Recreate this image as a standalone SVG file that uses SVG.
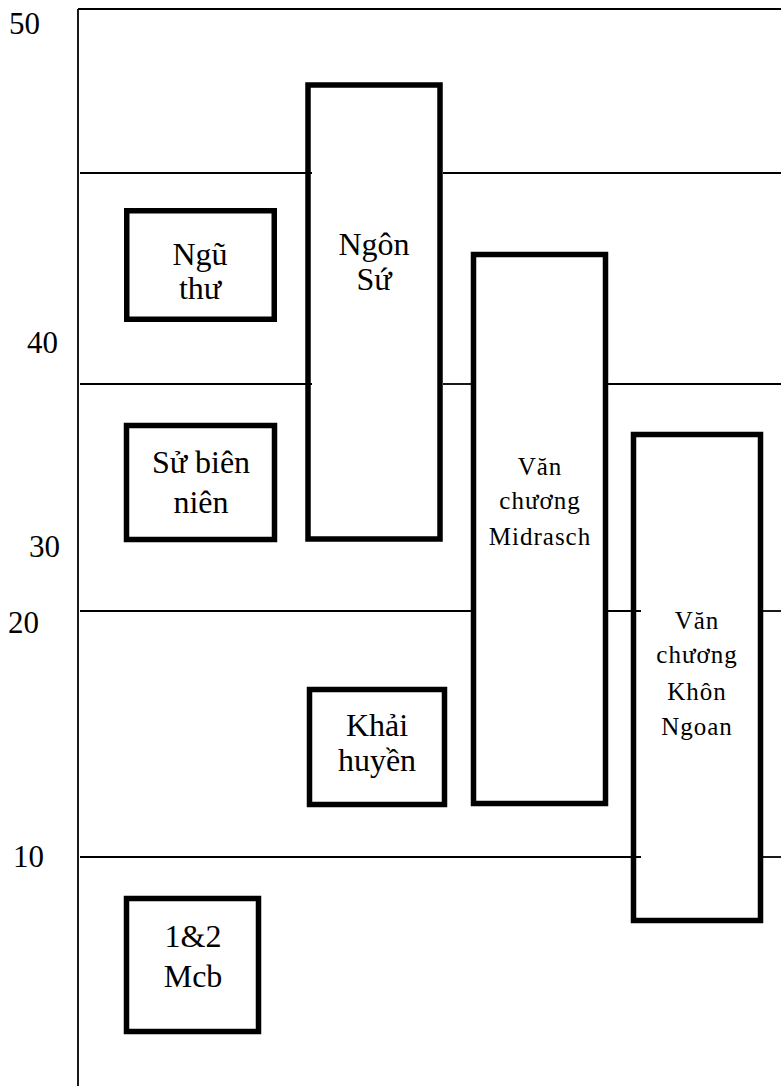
<svg xmlns="http://www.w3.org/2000/svg" width="781" height="1086" viewBox="0 0 781 1086">
<style>
.box{fill:#fff;stroke:#000;stroke-width:5.5}
.ln{stroke:#000;stroke-width:1.8;fill:none}
</style>
<rect width="781" height="1086" fill="#fff"/>
<g id="axis" font-family="Liberation Serif" font-size="31" fill="#000">
<line class="ln" x1="78" y1="9" x2="781" y2="9"/>
<line class="ln" x1="78" y1="9" x2="78" y2="1086"/>
<text x="9" y="34">50</text>
<text x="27" y="353">40</text>
<text x="29" y="557">30</text>
<text x="8" y="633">20</text>
<text x="13" y="867">10</text>
</g>
<g id="ngonsu"><rect class="box" x="308" y="85" width="132" height="454"/>
<text font-family="Liberation Serif" font-size="32" text-anchor="middle" x="374" y="255">Ngôn</text><text font-family="Liberation Serif" font-size="32" text-anchor="middle" x="374" y="290">Sứ</text></g>
<g id="ngutu"><rect class="box" x="126.75" y="210.75" width="147.5" height="108.5"/>
<text font-family="Liberation Serif" font-size="32" text-anchor="middle" x="200" y="265">Ngũ</text><text font-family="Liberation Serif" font-size="32" text-anchor="middle" x="200" y="299">thư</text></g>
<g id="subienien"><rect class="box" x="126.5" y="425.5" width="148" height="114"/>
<text font-family="Liberation Serif" font-size="32" text-anchor="middle" x="201" y="473">Sử biên</text><text font-family="Liberation Serif" font-size="32" text-anchor="middle" x="201" y="513">niên</text></g>
<g id="midrasch"><rect class="box" x="473.5" y="254.5" width="132" height="549"/>
<text font-family="Liberation Serif" font-size="25" letter-spacing="1" text-anchor="middle" x="540" y="475">Văn</text><text font-family="Liberation Serif" font-size="25" letter-spacing="1" text-anchor="middle" x="540" y="509">chương</text><text font-family="Liberation Serif" font-size="25" letter-spacing="1" text-anchor="middle" x="540" y="545">Midrasch</text></g>
<g id="khonngoan"><rect class="box" x="633.5" y="434.5" width="127" height="486"/>
<text font-family="Liberation Serif" font-size="25" letter-spacing="1" text-anchor="middle" x="697" y="629">Văn</text><text font-family="Liberation Serif" font-size="25" letter-spacing="1" text-anchor="middle" x="697" y="663">chương</text><text font-family="Liberation Serif" font-size="25" letter-spacing="1" text-anchor="middle" x="697" y="700">Khôn</text><text font-family="Liberation Serif" font-size="25" letter-spacing="1" text-anchor="middle" x="697" y="735">Ngoan</text></g>
<g id="khaihuyen"><rect class="box" x="309.5" y="689.5" width="135" height="115"/>
<text font-family="Liberation Serif" font-size="32" text-anchor="middle" x="377" y="736">Khải</text><text font-family="Liberation Serif" font-size="32" text-anchor="middle" x="377" y="771">huyền</text></g>
<g id="mcb"><rect class="box" x="126.5" y="898.5" width="132" height="133"/>
<text font-family="Liberation Serif" font-size="32" text-anchor="middle" x="193" y="947">1&amp;2</text><text font-family="Liberation Serif" font-size="32" text-anchor="middle" x="193" y="987">Mcb</text></g>
<g id="connectors">
<line class="ln" x1="80" y1="173" x2="312" y2="173"/>
<line class="ln" x1="443" y1="173" x2="781" y2="173"/>
<line class="ln" x1="80" y1="384" x2="312" y2="384"/>
<line class="ln" x1="443" y1="384" x2="475" y2="384"/>
<line class="ln" x1="608" y1="384" x2="781" y2="384"/>
<line class="ln" x1="80" y1="611" x2="476" y2="611"/>
<line class="ln" x1="608" y1="611" x2="641" y2="611"/>
<line class="ln" x1="763" y1="611" x2="781" y2="611"/>
<line class="ln" x1="80" y1="857" x2="641" y2="857"/>
<line class="ln" x1="763" y1="857" x2="781" y2="857"/>
</g>
</svg>
